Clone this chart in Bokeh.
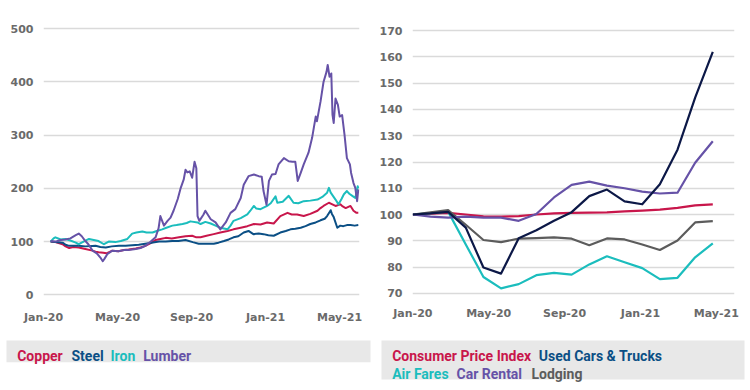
from bokeh.plotting import figure
from bokeh.layouts import row, column
from bokeh.models import Range1d, FixedTicker, ColumnDataSource
from bokeh.embed import file_html
from bokeh.resources import INLINE
from bokeh.core.properties import value

# ---------------- Left chart: commodity prices (index, Jan-20 = 100) ----------------
# x = days since first observation (early Jan 2020)
lumber_day = [0, 8, 17, 25, 33, 42, 47, 52, 58, 63, 70, 77, 83, 87, 90, 95, 103, 113, 123, 130,
              142, 150, 158, 167, 175, 180, 183, 189, 195, 200, 205, 212, 217, 222, 225, 228, 232,
              236, 240, 243, 245, 248, 255, 258, 267, 275, 283, 292, 300, 308, 317, 322, 330, 339,
              347, 352, 355, 360, 364, 369, 375, 380, 389, 397, 403, 408, 412, 417, 422, 430, 436,
              442, 444, 450, 455, 460, 462, 465, 468, 470, 472, 475, 479, 482, 486, 490, 494, 499,
              501, 505, 508, 511, 513]
lumber_val = [101, 100, 103, 104, 106, 112, 115, 110, 101, 95, 83, 78, 70, 63, 68, 77, 83, 82, 84, 84,
              86, 88, 92, 100, 108, 125, 148, 130, 139, 145, 158, 180, 201, 217, 235, 230, 232,
              220, 250, 238, 148, 139, 151, 158, 142, 136, 123, 136, 154, 161, 182, 207, 223, 226,
              223, 222, 195, 169, 214, 226, 227, 245, 257, 251, 250, 250, 214, 229, 245, 267, 295,
              335, 326, 363, 400, 419, 432, 410, 416, 338, 323, 369, 357, 335, 338, 301, 257, 245,
              229, 210, 201, 176, 198]

iron_day = [0, 5, 8, 17, 25, 33, 42, 47, 55, 64, 72, 80, 89, 97, 108, 117, 128, 136, 143, 153, 160,
            170, 177, 186, 193, 203, 210, 220, 227, 233, 245, 250, 258, 267, 275, 283, 295, 300, 305,
            317, 328, 333, 339, 343, 350, 361, 367, 375, 378, 387, 397, 405, 413, 422, 433, 445, 453,
            461, 464, 467, 475, 480, 485, 489, 494, 498, 503, 508, 512, 513]
iron_val = [100, 106, 108, 104, 105, 102, 98, 95, 100, 105, 103, 101, 95, 100, 99, 101, 105, 115, 117,
            119, 117, 117, 120, 123, 126, 130, 131, 133, 135, 138, 136, 133, 137, 134, 130, 126, 123,
            130, 139, 144, 151, 158, 167, 162, 161, 167, 172, 185, 173, 175, 186, 173, 172, 176, 177,
            179, 184, 192, 201, 192, 179, 170, 180, 189, 195, 190, 186, 182, 204, 200]

copper_day = [0, 8, 20, 25, 31, 38, 47, 58, 70, 75, 80, 88, 93, 103, 113, 122, 130, 142, 150, 158,
              167, 175, 183, 192, 202, 214, 225, 236, 243, 250, 260, 272, 283, 295, 305, 317, 328,
              339, 350, 361, 372, 383, 395, 402, 411, 422, 433, 445, 450, 455, 464, 468, 475, 483,
              487, 492, 500, 505, 510, 513]
copper_val = [100, 99, 95, 91, 88, 90, 89, 86, 83, 81, 80, 79, 78, 83, 82, 84, 85, 87, 89, 92,
              97, 103, 105, 107, 106, 108, 110, 111, 108, 108, 111, 114, 117, 120, 123, 126, 129,
              133, 132, 136, 134, 148, 154, 151, 151, 148, 152, 158, 163, 167, 173, 171, 167, 170,
              166, 163, 167, 158, 154, 154]

steel_day = [0, 8, 20, 25, 31, 47, 58, 75, 83, 92, 102, 114, 125, 136, 147, 158, 168, 181, 192, 203,
             213, 225, 237, 247, 258, 272, 280, 289, 297, 305, 313, 322, 330, 338, 347, 355, 363, 372,
             383, 392, 400, 408, 417, 425, 433, 442, 450, 457, 461, 467, 469, 472, 478, 483, 488, 494,
             500, 507, 513]
steel_val = [100, 99, 98, 94, 92, 92, 91, 92, 90, 89, 91, 92, 92, 93, 94, 96, 98, 100, 100, 101,
             101, 103, 99, 96, 96, 96, 98, 101, 104, 108, 110, 117, 120, 114, 115, 114, 112, 111,
             117, 120, 123, 124, 126, 129, 133, 136, 140, 143, 148, 159, 152, 146, 126, 130, 129, 131,
             131, 130, 131]

left_tick_pos = [-11.7, 111.7, 235, 358.3, 481.7]
left_tick_labels = ["Jan-20", "May-20", "Sep-20", "Jan-21", "May-21"]
left_yticks = [0, 100, 200, 300, 400, 500]

# ---------------- Right chart: CPI components (index, Jan-20 = 100) ----------------
obs = list(range(18))
cpi = [100, 100.3, 100.6, 100.0, 99.3, 99.2, 99.4, 100.0, 100.4, 100.6, 100.7, 100.8, 101.2,
       101.5, 101.9, 102.5, 103.5, 103.9]
used_cars = [100, 100.4, 101.0, 95.0, 79.8, 77.5, 91.0, 94.0, 97.6, 100.9, 107.0, 109.5, 105.0,
             103.9, 111.5, 124.7, 144.5, 161.9]
air_fares = [100, 100.5, 101.1, 88.6, 76.2, 71.9, 73.5, 76.9, 77.8, 77.1, 81.0, 84.1, 81.8, 79.6,
             75.4, 75.9, 83.7, 89.0]
car_rental = [100, 99.2, 98.8, 99.2, 98.8, 98.8, 97.6, 100.2, 106.5, 111.3, 112.5, 111.0, 110.0,
              108.7, 108.0, 108.3, 119.7, 127.9]
lodging = [100, 100.8, 101.7, 96.1, 90.3, 89.5, 90.8, 91.0, 91.3, 90.8, 88.3, 90.9, 90.5, 88.6,
           86.5, 90.1, 97.0, 97.5]
right_tick_pos = [0, 4.3, 8.6, 12.9, 17.2]
right_tick_labels = ["Jan-20", "May-20", "Sep-20", "Jan-21", "May-21"]
right_yticks = [70, 80, 90, 100, 110, 120, 130, 140, 150, 160, 170]

# ---------------- Legends ----------------
left_legend_names = ["Copper", "Steel", "Iron", "Lumber"]
right_legend_names = ["Consumer Price Index", "Used Cars & Trucks", "Air Fares", "Car Rental", "Lodging"]

# ---------------- Styles ----------------
CRIMSON = "#c8164b"
STEEL = "#0b4f85"
TEAL = "#1bbdbd"
PURPLE = "#6652a7"
NAVY = "#0c1847"
GREY = "#5c5c5c"
GRID = "#dadada"
TICK = "#6a6a6a"
TICK_FONT = "DejaVu Sans"
LEG_FONT = "Roboto"


def style(p, xticks, xlabels, yticks, x_standoff):
    p.outline_line_color = None
    p.xgrid.grid_line_color = None
    p.ygrid.grid_line_color = GRID
    p.ygrid.grid_line_width = 1.5
    p.xaxis.ticker = FixedTicker(ticks=xticks)
    p.xaxis.major_label_overrides = {t: l for t, l in zip(xticks, xlabels)}
    p.yaxis.ticker = FixedTicker(ticks=yticks)
    for ax in (p.xaxis, p.yaxis):
        ax.axis_line_color = None
        ax.major_tick_line_color = None
        ax.minor_tick_line_color = None
        ax.major_tick_out = 0
        ax.major_tick_in = 0
        ax.major_label_text_font = TICK_FONT
        ax.major_label_text_font_style = "bold"
        ax.major_label_text_font_size = "11px"
        ax.major_label_text_color = TICK
    p.yaxis.major_label_standoff = 10
    p.xaxis.major_label_standoff = x_standoff


p1 = figure(width=375, height=335, toolbar_location=None, output_backend="svg",
            x_range=Range1d(-11.8, 515), y_range=Range1d(-5.1, 504.3),
            min_border_left=43, min_border_right=16, min_border_top=26, min_border_bottom=38)
style(p1, left_tick_pos, left_tick_labels, left_yticks, 13)
for d, v, c in [(copper_day, copper_val, CRIMSON), (steel_day, steel_val, STEEL),
                (iron_day, iron_val, TEAL), (lumber_day, lumber_val, PURPLE)]:
    p1.line(d, v, line_color=c, line_width=2, line_join="round")

p2 = figure(width=375, height=335, toolbar_location=None, output_backend="svg",
            x_range=Range1d(-0.02, 18.23), y_range=Range1d(68.4, 171.6),
            min_border_left=37, min_border_right=16, min_border_top=24, min_border_bottom=34)
style(p2, right_tick_pos, right_tick_labels, right_yticks, 9)
for v, c in [(cpi, CRIMSON), (air_fares, TEAL), (lodging, GREY),
             (car_rental, PURPLE), (used_cars, NAVY)]:
    p2.line(obs, v, line_color=c, line_width=2.2, line_join="round")


def legend_fig(w, h, box, names, colors, xs, ys):
    lf = figure(width=w, height=h, toolbar_location=None, output_backend="svg",
                x_range=Range1d(0, w), y_range=Range1d(h, 0),
                x_axis_type=None, y_axis_type=None, min_border=0)
    lf.outline_line_color = None
    lf.grid.visible = False
    lf.quad(left=[box[0]], right=[box[1]], top=[box[2]], bottom=[box[3]],
            fill_color="#e8e8e8", line_color=None)
    src = ColumnDataSource(dict(x=xs, y=ys, t=names, c=colors))
    lf.text(x="x", y="y", text="t", text_color="c", source=src,
            text_font=value(LEG_FONT), text_font_style="bold", text_font_size="14px",
            text_baseline="alphabetic", text_align="left")
    return lf


lg1 = legend_fig(375, 55, (6, 370, 5, 26.7), left_legend_names,
                 [CRIMSON, STEEL, TEAL, PURPLE], [16.7, 71, 110, 142.7], [20.7] * 4)
lg2 = legend_fig(375, 55, (6, 369, 5, 44), right_legend_names,
                 [CRIMSON, STEEL, TEAL, PURPLE, GREY], [16.7, 163.3, 16.7, 81, 156],
                 [20.7, 20.7, 38.3, 38.3, 38.3])

layout = column(row(p1, p2), row(lg1, lg2))
open("out.html", "w").write(file_html(layout, INLINE))
